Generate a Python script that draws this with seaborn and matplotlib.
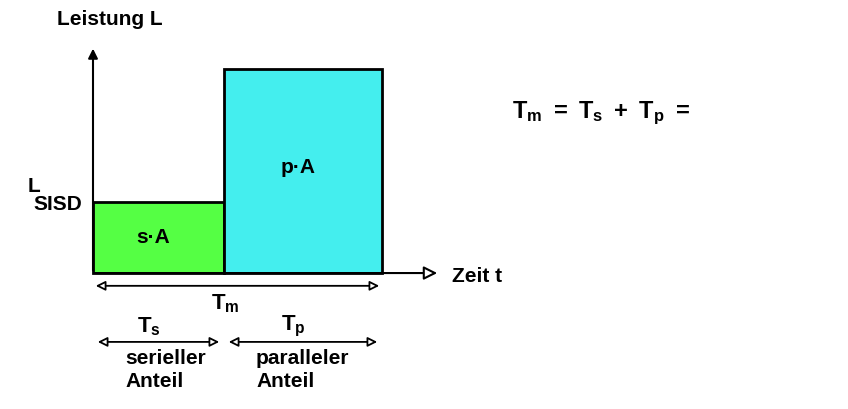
import numpy as np
import seaborn as sns
import matplotlib.pyplot as plt

sns.set_style("white")
plt.rcParams['font.family'] = ['Liberation Sans', 'DejaVu Sans']
plt.rcParams['text.color'] = 'black'
plt.rcParams['mathtext.fontset'] = 'custom'
plt.rcParams['mathtext.rm'] = 'Liberation Sans:bold'
plt.rcParams['mathtext.it'] = 'Liberation Sans:bold'
plt.rcParams['mathtext.bf'] = 'Liberation Sans:bold'

# data (time units, power units where L_SISD = 1)
phase_labels = ["s·A", "p·A"]
durations = [1.31, 1.58]
levels = [1.0, 2.87]
colors = ["#55ff44", "#44eeee"]
time_labels = [r"$\mathrm{T_s}$", r"$\mathrm{T_p}$"]
part_labels = ["serieller\nAnteil", "paralleler\nAnteil"]

fig = plt.figure(figsize=(8.48, 4.10), dpi=100)
ax = fig.add_axes([0, 0, 1, 1])
ax.set_xlim(-0.93, 7.55)
ax.set_ylim(-1.915, 3.86)
ax.axis('off')

starts = np.concatenate([[0], np.cumsum(durations)[:-1]])
ax.bar(starts, levels, width=durations, align='edge', color=colors,
       edgecolor='black', linewidth=2, zorder=2)
total = sum(durations)
bold = dict(fontweight='bold', fontsize=15)

for s, d, h, lab in zip(starts, durations, levels, phase_labels):
    ax.text(s + d / 2 - 0.05, h * 0.52 if h < 2 else 1.5, lab, ha='center', va='center', **bold)

# axes arrows
ax.annotate("", xy=(0, 3.2), xytext=(0, 0),
            arrowprops=dict(arrowstyle='-|>', lw=1.5, color='black', mutation_scale=14))
ax.annotate("", xy=(3.47, 0), xytext=(0, 0),
            arrowprops=dict(arrowstyle='-|>', lw=1.5, color='black', fc='white', mutation_scale=20))
ax.text(-0.36, 3.59, "Leistung L", ha='left', va='center', **bold)
ax.text(3.59, -0.04, "Zeit t", ha='left', va='center', **bold)
ax.text(-0.65, 1.24, "L", ha='left', va='center', **bold)
ax.text(-0.6, 0.98, "SISD", ha='left', va='center', **bold)

# time arrows
dbl = dict(arrowstyle='<|-|>', lw=1.3, color='black', fc='white', mutation_scale=14)
ax.annotate("", xy=(total, -0.18), xytext=(0, -0.18), arrowprops=dbl)
ax.text(total * 0.45 + 0.02, -0.42, r"$\mathrm{T_m}$", ha='center', va='center', fontsize=16)
for s, d, tl, pl in zip(starts, durations, time_labels, part_labels):
    ax.annotate("", xy=(s + d - 0.02, -0.97), xytext=(s + 0.02, -0.97), arrowprops=dbl)
    ax.text(s + d / 2 - 0.1, -0.74, tl, ha='center', va='center', fontsize=16)
    ax.text(s + 0.32, -1.35, pl, ha='left', va='center', linespacing=1.3, **bold)

ax.text(4.19, 2.26, r"$\mathrm{T_m\ =\ T_s\ +\ T_p\ =}$", ha='left', va='center', fontsize=17)

fig.savefig("out.png", dpi=100)
